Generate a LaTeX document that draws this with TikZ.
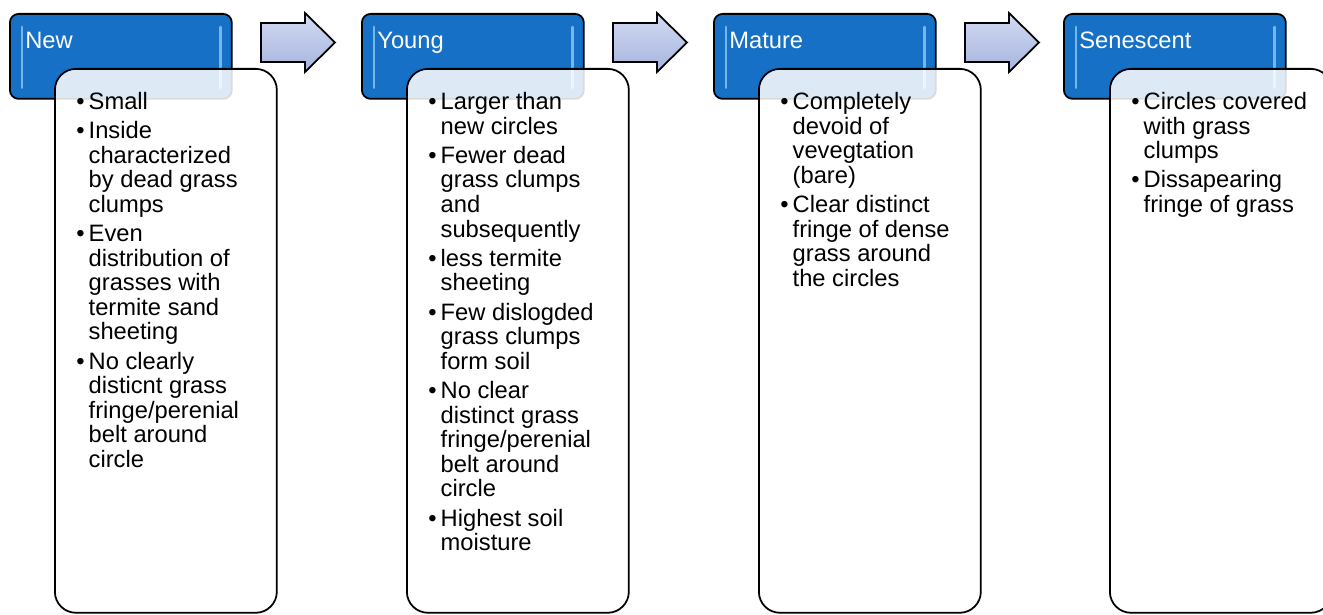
\documentclass[tikz,border=0pt]{standalone}
\usepackage{fontspec}
\setmainfont{Liberation Sans}
\usetikzlibrary{positioning,calc}

\definecolor{stageblue}{HTML}{1570C6}
\definecolor{streakblue}{HTML}{9AD8FA}
\definecolor{arrowtop}{HTML}{D3DBF2}
\definecolor{arrowbot}{HTML}{A6B4DE}

% bullet list with fixed line breaks
\newcommand{\stagelist}[1]{%
  \begin{tabular}{@{}l@{\hspace{2.3pt}}l@{}}#1\end{tabular}}
\newcommand{\gap}{\\[2.8pt]}

\begin{document}
\begin{tikzpicture}[x=0.02cm, y=-0.02cm,
    stage/.style={draw=black, line width=1pt, fill=stageblue,
      rounded corners=5pt, minimum width=4.44cm, minimum height=1.7cm,
      anchor=north west, inner sep=0pt},
    streak/.style={streakblue, line width=1.6pt, opacity=0.7, line cap=round},
    stagename/.style={white, anchor=base west, inner sep=0pt,
      font=\fontsize{13.5}{14}\selectfont},
    card/.style={draw=black, line width=1pt, fill=white, fill opacity=0.86,
      rounded corners=12pt, minimum width=4.44cm, minimum height=10.88cm,
      anchor=north west, inner sep=0pt},
    cardtext/.style={anchor=north west, inner sep=0pt,
      font=\fontsize{13.5}{13.9}\selectfont},
    arr/.style={draw=black, line width=1pt, top color=arrowtop,
      bottom color=arrowbot, line join=miter}]
  \useasboundingbox (0,0) rectangle (1323,615);

  % Headers
  \node[stage] (hNew) at (9,13) {};
  \node[stage] (hYoung) at (361,13) {};
  \node[stage] (hMature) at (713,13) {};
  \node[stage] (hSen) at (1063,13) {};
  \foreach \h in {hNew,hYoung,hMature,hSen}{
    \draw[streak] ($(\h.north west)+(13,14)$) -- ($(\h.south west)+(13,-12)$);
    \draw[streak] ($(\h.north east)+(-12,14)$) -- ($(\h.south east)+(-12,-12)$);
  }
  \node[stagename] (tNew) at ($(hNew.north west)+(16,36)$) {New};
  \node[stagename] (tYoung) at ($(hYoung.north west)+(16,36)$) {Young};
  \node[stagename] (tMature) at ($(hMature.north west)+(16,36)$) {Mature};
  \node[stagename] (tSen) at ($(hSen.north west)+(16,36)$) {Senescent};

  % Arrows between stages
  \foreach \x in {261,613,965}
    \draw[arr] (\x,23) -- ++(44,0) -- ++(0,-10) -- ++(30,29.5)
      -- ++(-30,29.5) -- ++(0,-10) -- ++(-44,0) -- cycle;

  % Cards
  \node[card] (cNew) at (54,68) {};
  \node[card] (cYoung) at (406,68) {};
  \node[card] (cMature) at (758,68) {};
  \node[card] (cSen) at (1109,68) {};

  % Card texts
  \node[cardtext] (lNew) at ($(cNew.north west)+(22,24)$) {\stagelist{
    \textbullet & Small\gap
    \textbullet & Inside\\ & characterized\\ & by dead grass\\ & clumps\gap
    \textbullet & Even\\ & distribution of\\ & grasses with\\ & termite sand\\ & sheeting\gap
    \textbullet & No clearly\\ & disticnt grass\\ & fringe/perenial\\ & belt around\\ & circle}};
  \node[cardtext] (lYoung) at ($(cYoung.north west)+(22,24)$) {\stagelist{
    \textbullet & Larger than\\ & new circles\gap
    \textbullet & Fewer dead\\ & grass clumps\\ & and\\ & subsequently\gap
    \textbullet & less termite\\ & sheeting\gap
    \textbullet & Few dislogded\\ & grass clumps\\ & form soil\gap
    \textbullet & No clear\\ & distinct grass\\ & fringe/perenial\\ & belt around\\ & circle\gap
    \textbullet & Highest soil\\ & moisture}};
  \node[cardtext] (lMature) at ($(cMature.north west)+(22,24)$) {\stagelist{
    \textbullet & Completely\\ & devoid of\\ & vevegtation\\ & (bare)\gap
    \textbullet & Clear distinct\\ & fringe of dense\\ & grass around\\ & the circles}};
  \node[cardtext] (lSen) at ($(cSen.north west)+(22,24)$) {\stagelist{
    \textbullet & Circles covered\\ & with grass\\ & clumps\gap
    \textbullet & Dissapearing\\ & fringe of grass}};
\end{tikzpicture}
\end{document}
